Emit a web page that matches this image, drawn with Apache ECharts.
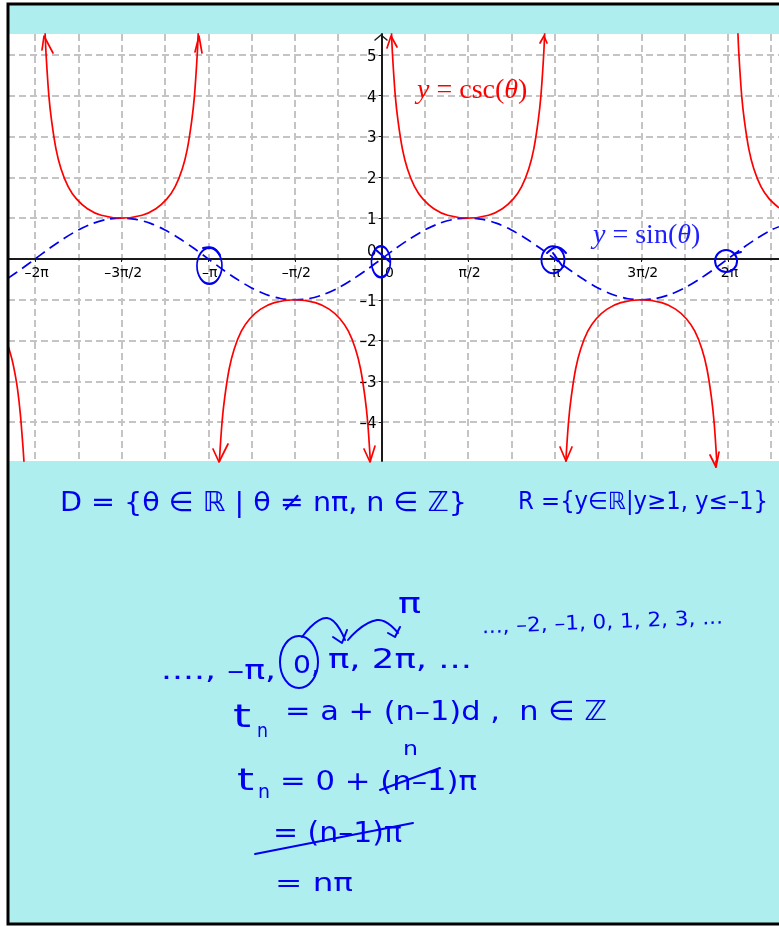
<!DOCTYPE html>
<html>
<head>
<meta charset="utf-8">
<style>html,body{margin:0;padding:0;background:#fff}#main{width:779px;height:926px}</style>
<script src="https://cdn.jsdelivr.net/npm/echarts@6/dist/echarts.min.js"></script>
</head>
<body>
<div id="main"></div>
<script>
// tick values, in radians
var xLabelTicks = [-6.2832, -4.7124, -3.1416, -1.5708, 0, 1.5708, 3.1416, 4.7124, 6.2832];
var xLabelNames = ['–2π', '–3π/2', '–π', '–π/2', '0', 'π/2', 'π', '3π/2', '2π'];
var xGridTicks = [-6.2832, -5.4978, -4.7124, -3.927, -3.1416, -2.3562, -1.5708, -0.7854, 0, 0.7854, 1.5708, 2.3562, 3.1416, 3.927, 4.7124, 5.4978, 6.2832, 7.0686];
var yTicks = [-4, -3, -2, -1, 0, 1, 2, 3, 4, 5];

var sinTheta = [-6.77, -6.545, -6.283, -6.021, -5.76, -5.498, -5.236, -4.974, -4.712, -4.451, -4.189, -3.927, -3.665, -3.403, -3.142, -2.88, -2.618, -2.356, -2.094, -1.833, -1.571, -1.309, -1.047, -0.785, -0.524, -0.262, 0, 0.262, 0.524, 0.785, 1.047, 1.309, 1.571, 1.833, 2.094, 2.356, 2.618, 2.88, 3.142, 3.403, 3.665, 3.927, 4.189, 4.451, 4.712, 4.974, 5.236, 5.498, 5.76, 6.021, 6.283, 6.545, 6.807, 7.069, 7.21];
var sinValues = [-0.47, -0.26, 0, 0.26, 0.5, 0.71, 0.87, 0.97, 1, 0.97, 0.87, 0.71, 0.5, 0.26, 0, -0.26, -0.5, -0.71, -0.87, -0.97, -1, -0.97, -0.87, -0.71, -0.5, -0.26, 0, 0.26, 0.5, 0.71, 0.87, 0.97, 1, 0.97, 0.87, 0.71, 0.5, 0.26, 0, -0.26, -0.5, -0.71, -0.87, -0.97, -1, -0.97, -0.87, -0.71, -0.5, -0.26, 0, 0.26, 0.5, 0.71, 0.79];

// the six pieces of the csc curve
var cscArchUp = [5.6, 5, 4, 3.38, 2.69, 2.21, 1.77, 1.47, 1.23, 1.07, 1, 1.07, 1.23, 1.47, 1.77, 2.21, 2.69, 3.38, 4, 5, 5.6];
var cscArchDown = [-5.6, -5, -4, -3.38, -2.69, -2.21, -1.77, -1.47, -1.23, -1.07, -1, -1.07, -1.23, -1.47, -1.77, -2.21, -2.69, -3.38, -4, -5, -5.6];
var cscThetaA = [-6.77, -6.7, -6.65, -6.6, -6.55, -6.5, -6.483];
var cscValuesA = [-2.14, -2.47, -2.79, -3.2, -3.8, -4.65, -5];
var cscThetaB = [-6.103, -6.083, -6.033, -5.983, -5.903, -5.813, -5.683, -5.533, -5.333, -5.083, -4.712, -4.342, -4.092, -3.892, -3.742, -3.612, -3.522, -3.442, -3.392, -3.342, -3.322];
var cscThetaC = [-2.962, -2.942, -2.892, -2.842, -2.762, -2.672, -2.542, -2.392, -2.192, -1.942, -1.571, -1.2, -0.95, -0.75, -0.6, -0.47, -0.38, -0.3, -0.25, -0.2, -0.18];
var cscThetaD = [0.18, 0.2, 0.25, 0.3, 0.38, 0.47, 0.6, 0.75, 0.95, 1.2, 1.571, 1.942, 2.192, 2.392, 2.542, 2.672, 2.762, 2.842, 2.892, 2.942, 2.962];
var cscThetaE = [3.322, 3.342, 3.392, 3.442, 3.522, 3.612, 3.742, 3.892, 4.092, 4.342, 4.712, 5.083, 5.333, 5.533, 5.683, 5.813, 5.903, 5.983, 6.033, 6.083, 6.103];
var cscThetaF = [6.463, 6.483, 6.533, 6.583, 6.663, 6.753, 6.883, 7.033, 7.21];
var cscValuesF = [5.6, 5, 4, 3.38, 2.69, 2.21, 1.77, 1.47, 1.25];

// hand-circled zeros of sin
var circledZeros = [[-3.12, -0.17], [-0.01, -0.07], [3.11, -0.02], [6.25, -0.05]];

var RED = '#ff0000', BLUE = '#0000f0';

function zip(xs, ys) {
    return xs.map(function (x, i) { return [x, ys[i]]; });
}

var measure = document.createElement('canvas').getContext('2d');
// handwritten text: real text squeezed to the width it has in the picture
function ink(text, x, y, size, width, rot) {
    measure.font = size + 'px "DejaVu Sans"';
    return {
        type: 'text', x: x, y: y, z: 30,
        scaleX: width / measure.measureText(text).width,
        rotation: rot || 0,
        style: { text: text, fill: BLUE, fontFamily: 'DejaVu Sans', fontSize: size, align: 'left', verticalAlign: 'middle' }
    };
}
function pen(points, color, width, smooth) {
    return {
        type: 'polyline', z: 31,
        shape: { points: points, smooth: smooth || 0 },
        style: { stroke: color, lineWidth: width || 2, fill: null, lineCap: 'round', lineJoin: 'round' }
    };
}
function curve(data) {
    return {
        type: 'line', data: data, xAxisIndex: 0, showSymbol: false, smooth: 0.3, z: 6,
        lineStyle: { color: RED, width: 1.7 }
    };
}

var myChart = echarts.init(document.getElementById('main'));
var option = {
    animation: false,
    backgroundColor: '#fff',
    grid: { left: 8, right: 0, top: 34, bottom: 465, show: true, backgroundColor: '#fff', borderWidth: 0, outerBoundsMode: 'none' },
    xAxis: [
        {
            type: 'value', min: -6.774, max: 7.21, position: 'bottom', offset: -202,
            axisLine: { onZero: false, lineStyle: { color: '#1a1a1a', width: 2 } },
            axisTick: { show: true, customValues: xLabelTicks, length: 3, inside: false, lineStyle: { color: '#1a1a1a', width: 1 } },
            axisLabel: {
                customValues: xLabelTicks, margin: 7, color: '#000', fontFamily: 'DejaVu Sans', fontSize: 14,
                formatter: function (v) {
                    var name = xLabelNames[xLabelTicks.indexOf(v)];
                    return name === '0' ? '{zero|0}' : '{n|' + name + '}';
                },
                rich: {
                    n: { fontFamily: 'DejaVu Sans', fontSize: 14, color: '#000', padding: [0, 0, 0, 3] },
                    zero: { fontFamily: 'DejaVu Sans', fontSize: 14, color: '#000', padding: [0, 0, 0, 16] }
                }
            },
            splitLine: { show: false }
        },
        {
            type: 'value', min: -6.774, max: 7.21, position: 'bottom',
            axisLine: { show: false, onZero: false },
            axisTick: { show: false, customValues: xGridTicks },
            axisLabel: { show: false, customValues: xGridTicks },
            splitLine: { show: true, lineStyle: { color: '#c4c4c4', width: 2, type: [7, 4] } }
        }
    ],
    yAxis: {
        type: 'value', min: -4.95, max: 5.51, position: 'left', offset: -373.5,
        axisLine: { onZero: false, lineStyle: { color: '#1a1a1a', width: 2 } },
        axisTick: { show: true, customValues: yTicks, length: 3, lineStyle: { color: '#1a1a1a', width: 1 } },
        axisLabel: {
            customValues: yTicks, margin: 5, color: '#000', fontFamily: 'DejaVu Sans', fontSize: 15, padding: [4, 0, 0, 0],
            formatter: function (v) {
                if (v === 0) return '{zero|0}';
                return (v < 0 ? '–' + (-v) : '' + v);
            },
            rich: { zero: { fontFamily: 'DejaVu Sans', fontSize: 15, color: '#000', padding: [0, 0, 18, 0] } }
        },
        splitLine: { show: true, lineStyle: { color: '#c4c4c4', width: 2, type: [7, 4] } }
    },
    series: [
        {
            name: 'sin', type: 'line', data: zip(sinTheta, sinValues), xAxisIndex: 0, showSymbol: false, smooth: 0.3, z: 5,
            lineStyle: { color: BLUE, width: 1.7, type: [11, 6] }
        },
        curve(zip(cscThetaA, cscValuesA)),
        curve(zip(cscThetaB, cscArchUp)),
        curve(zip(cscThetaC, cscArchDown)),
        curve(zip(cscThetaD, cscArchUp)),
        curve(zip(cscThetaE, cscArchDown)),
        curve(zip(cscThetaF, cscValuesF)),
        {
            type: 'scatter', data: circledZeros, xAxisIndex: 0, z: 7, silent: true,
            symbol: 'circle',
            symbolSize: function (v, p) { return [[25, 36], [19, 31], [23, 27], [22, 22]][p.dataIndex]; },
            itemStyle: { color: 'rgba(0,0,0,0)', borderColor: BLUE, borderWidth: 2, opacity: 1 }
        }
    ],
    graphic: [
        // page: turquoise sheet, black frame goes on top of the grid
        { type: 'rect', z: -10, silent: true, shape: { x: 8, y: 5, width: 775, height: 919 }, style: { fill: '#afeeee' } },
        { type: 'rect', z: 40, silent: true, shape: { x: 8, y: 4, width: 775, height: 920 }, style: { fill: null, stroke: '#000', lineWidth: 3 } },

        // arrow on the y axis
        pen([[375, 40], [381, 35], [387, 40]], '#1a1a1a', 1.5),

        // arrow heads drawn on the csc curve
        pen([[42, 50], [44, 36], [53, 53]], RED, 1.7),
        pen([[195, 52], [199, 36], [202, 53]], RED, 1.7),
        pen([[387, 48], [391, 36], [397, 47]], RED, 1.7),
        pen([[540, 43], [544, 36], [547, 43]], RED, 1.7),
        pen([[213, 449], [219, 462], [228, 444]], RED, 1.7),
        pen([[364, 449], [370, 462], [375, 446]], RED, 1.7),
        pen([[560, 447], [566, 461], [572, 447]], RED, 1.7),
        pen([[710, 455], [716, 467], [719, 452]], RED, 1.7),
        pen([[716, 461], [716, 467]], RED, 1.7),

        // tails of the circles
        pen([[203, 248], [213, 248], [220, 255]], BLUE, 2, 0.4),
        pen([[547, 253], [557, 247], [566, 253]], BLUE, 2, 0.4),
        pen([[553, 253], [563, 267]], BLUE, 2),
        pen([[734, 254], [741, 252]], BLUE, 2),
        pen([[376, 250], [390, 262]], BLUE, 2),

        // curve labels
        {
            type: 'text', x: 417, y: 91, z: 30,
            style: {
                text: '{i|y} = csc({i|θ})', fill: RED, fontFamily: 'Liberation Serif', fontSize: 28, align: 'left', verticalAlign: 'middle',
                rich: { i: { fontFamily: 'Liberation Serif', fontStyle: 'italic', fontSize: 28, fill: RED, color: RED } }
            }
        },
        {
            type: 'text', x: 593, y: 236, z: 30,
            style: {
                text: '{i|y} = sin({i|θ})', fill: '#2020ff', fontFamily: 'Liberation Serif', fontSize: 28, align: 'left', verticalAlign: 'middle',
                rich: { i: { fontFamily: 'Liberation Serif', fontStyle: 'italic', fontSize: 28, fill: '#2020ff', color: '#2020ff' } }
            }
        },

        // domain and range
        ink('D = {θ ∈ ℝ | θ ≠ nπ, n ∈ ℤ}', 60, 504, 27, 407),
        ink('R ={y∈ℝ|y≥1, y≤–1}', 518, 503, 24, 250),

        // the sequences
        ink('π', 398, 606, 28, 23),
        ink('...., –π,', 161, 672, 26, 115),
        ink('0,', 293, 667, 24, 27),
        ink('π, 2π, ...', 328, 661, 26, 144),
        ink('..., –2, –1, 0, 1, 2, 3, ...', 482, 628, 20, 241, 0.04),
        { type: 'ellipse', z: 31, shape: { cx: 299, cy: 662, rx: 19, ry: 26 }, style: { fill: null, stroke: BLUE, lineWidth: 2 } },
        pen([[302, 637], [327, 618], [345, 640]], BLUE, 2, 0.5),
        pen([[333, 637], [342, 643], [347, 630]], BLUE, 2),
        pen([[348, 640], [377, 620], [398, 633]], BLUE, 2, 0.5),
        pen([[388, 633], [395, 637], [400, 627]], BLUE, 2),

        // working
        ink('t', 233, 719, 32, 18),
        ink('n', 257, 732, 20, 11),
        ink('= a + (n–1)d ,  n ∈ ℤ', 285, 713, 27, 322),
        ink('n', 403, 750, 20, 15),
        ink('t', 237, 782, 30, 17),
        ink('n', 258, 793, 20, 12),
        ink('= 0 + (n–1)π', 280, 783, 26, 197),
        pen([[380, 790], [440, 768]], BLUE, 2),
        ink('= (n–1)π', 273, 835, 28, 129),
        pen([[255, 854], [413, 823]], BLUE, 2),
        ink('= nπ', 275, 884, 25, 78)
    ]
};

myChart.setOption(option);
</script>
</body>
</html>
